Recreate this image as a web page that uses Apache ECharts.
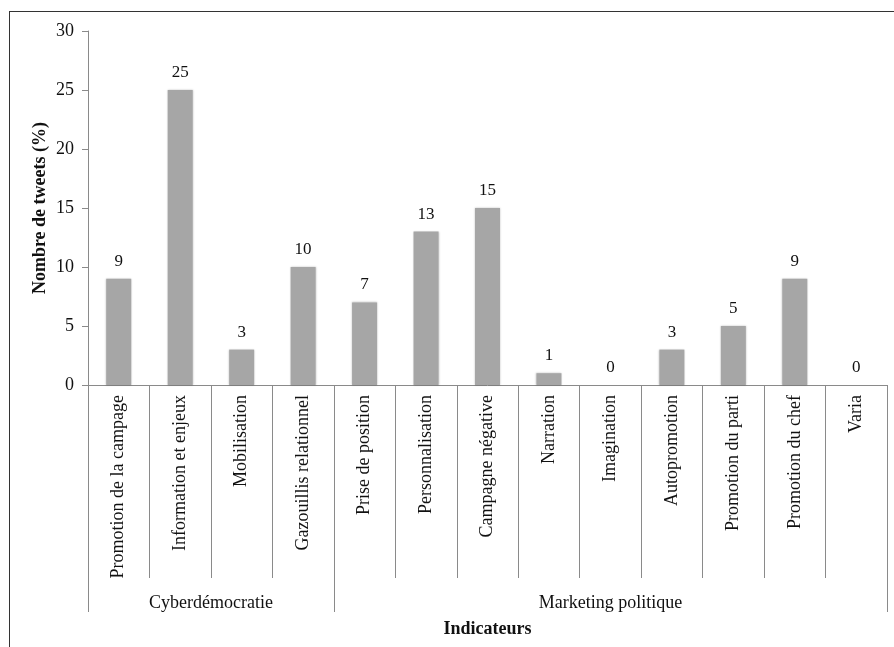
<!DOCTYPE html>
<html>
<head>
<meta charset="utf-8">
<style>
  html, body { margin: 0; padding: 0; background: #fff; }
  #frame { position: absolute; left: 9px; top: 11px; width: 900px; height: 700px;
           border-left: 1.5px solid #333; border-top: 1.5px solid #333; }
  #chart { position: absolute; left: 0; top: 0; width: 894px; height: 647px; }
</style>
<script src="https://cdn.jsdelivr.net/npm/echarts@6/dist/echarts.min.js"></script>
</head>
<body>
<div id="frame"></div>
<div id="chart"></div>
<script>
// Indicator categories and their share of tweets (%)
const categories = [
  'Promotion de la campage', 'Information et enjeux', 'Mobilisation', 'Gazouillis relationnel',
  'Prise de position', 'Personnalisation', 'Campagne négative', 'Narration', 'Imagination',
  'Autopromotion', 'Promotion du parti', 'Promotion du chef', 'Varia'
];
const values = [9, 25, 3, 10, 7, 13, 15, 1, 0, 3, 5, 9, 0];

// Groups of indicators: name, first index, count
const groupNames = ['Cyberdémocratie', 'Marketing politique'];
const groupStarts = [0, 4];
const groupSizes = [4, 9];

const yTicks = [0, 5, 10, 15, 20, 25, 30];

const font = '"Liberation Serif", "DejaVu Serif", serif';
const axisGray = '#8a8a8a';

// Positions (in category units) of group label centres
const groupCentres = groupStarts.map((s, i) => s + groupSizes[i] / 2);

const chart = echarts.init(document.getElementById('chart'), null, { renderer: 'canvas' });
chart.setOption({
  backgroundColor: 'transparent',
  animation: false,
  grid: { left: 88, right: 7, top: 31, bottom: 262 },
  xAxis: [
    {
      type: 'category',
      data: categories,
      axisLine: { show: true, lineStyle: { color: axisGray, width: 1 } },
      axisTick: { show: true, interval: 0, length: 193, lineStyle: { color: axisGray, width: 1 } },
      axisLabel: {
        interval: 0, rotate: 90, margin: 10,
        fontFamily: font, fontSize: 18, color: '#111'
      }
    },
    {
      type: 'category',
      data: categories,
      position: 'bottom',
      axisLine: { show: false },
      axisTick: {
        show: true,
        interval: function (i) { return groupStarts.indexOf(i) !== -1; },
        length: 227, lineStyle: { color: axisGray, width: 1 }
      },
      axisLabel: { show: false }
    },
    {
      type: 'value',
      min: 0, max: categories.length, interval: 0.5,
      position: 'bottom',
      axisLine: { show: false },
      axisTick: { show: false },
      splitLine: { show: false },
      axisLabel: {
        margin: 209,
        showMinLabel: true, showMaxLabel: true,
        fontFamily: font, fontSize: 18, color: '#111',
        formatter: function (v) {
          const k = groupCentres.indexOf(v);
          return k === -1 ? '' : groupNames[k];
        }
      },
      name: 'Indicateurs',
      nameLocation: 'middle',
      nameGap: 235,
      nameMoveOverlap: false,
      nameTextStyle: { fontFamily: font, fontSize: 18, fontWeight: 'bold', color: '#111' }
    }
  ],
  yAxis: {
    type: 'value',
    min: yTicks[0], max: yTicks[yTicks.length - 1], interval: 5,
    axisLine: { show: true, lineStyle: { color: axisGray } },
    axisTick: { show: true, length: 6, lineStyle: { color: axisGray } },
    splitLine: { show: false },
    axisLabel: { margin: 14, fontFamily: font, fontSize: 18, color: '#111' },
    name: 'Nombre de tweets (%)',
    nameLocation: 'middle',
    nameGap: 39,
    nameMoveOverlap: false,
    nameTextStyle: { fontFamily: font, fontSize: 18, fontWeight: 'bold', color: '#111' }
  },
  series: [{
    type: 'bar',
    xAxisIndex: 0,
    data: values,
    barWidth: 25,
    itemStyle: {
      color: '#a6a6a6',
      shadowColor: 'rgba(0,0,0,0.25)', shadowBlur: 2
    },
    label: {
      show: true, position: 'top', distance: 9,
      fontFamily: font, fontSize: 17, color: '#111'
    }
  }]
});
</script>
</body>
</html>
